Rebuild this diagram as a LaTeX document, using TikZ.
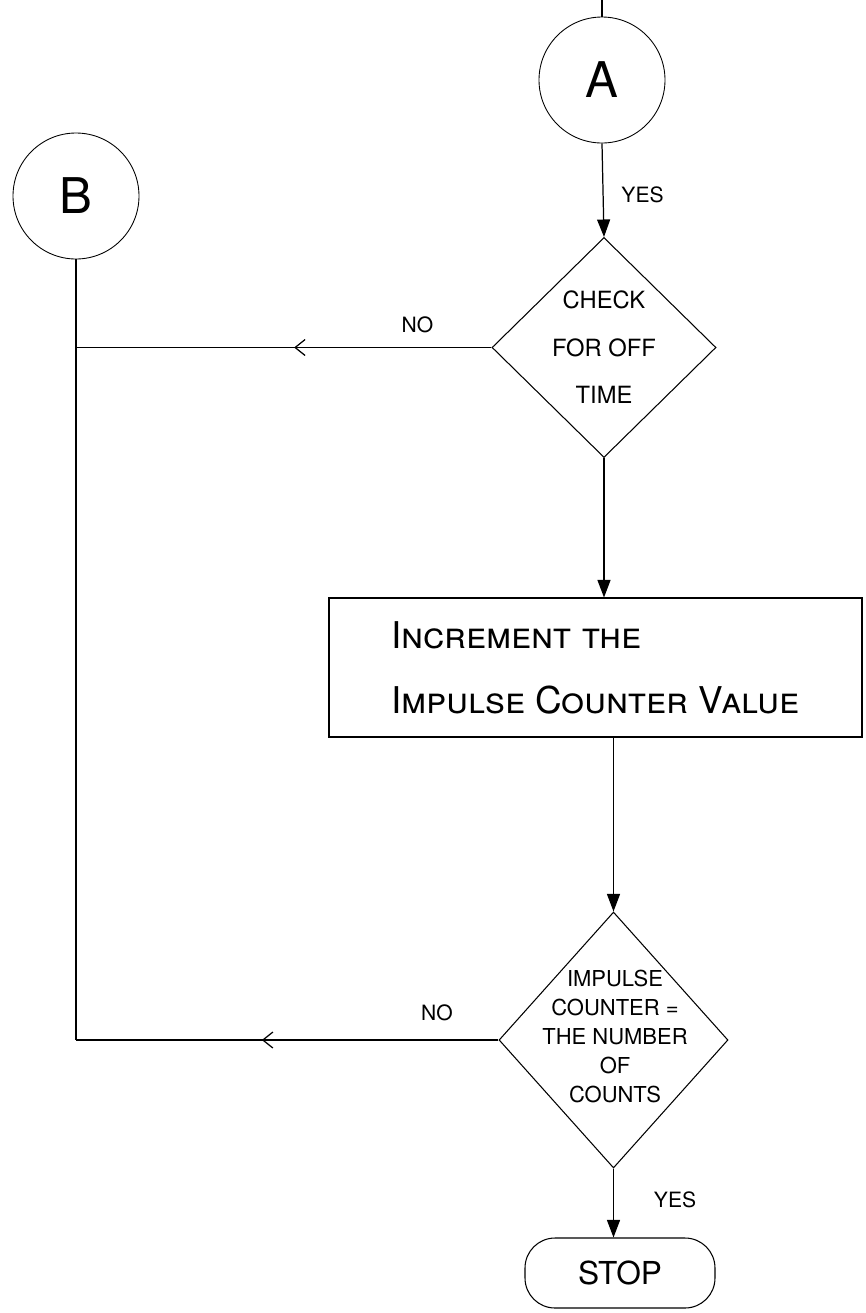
\documentclass[tikz,border=0pt]{standalone}
\usepackage{fontspec}
\setmainfont{TeX Gyre Heros}
\usetikzlibrary{arrows.meta,shapes.geometric,decorations.markings}

\begin{document}
\begin{tikzpicture}[line width=0.7pt,>={Triangle[length=3.5mm,width=2.6mm]},
  conn/.style={circle,draw,line width=0.5pt,minimum size=2.52cm,inner sep=0pt,
    font=\fontsize{28}{28}\selectfont},
  test/.style={diamond,draw,line width=0.6pt,inner sep=0pt,align=center},
  proc/.style={rectangle,draw,line width=0.6pt,align=left,
    font=\fontsize{21}{37}\selectfont},
  term/.style={rectangle,rounded corners=0.6cm,draw,line width=0.6pt,
    font=\fontsize{18}{18}\selectfont},
  lbl/.style={font=\fontsize{12}{12}\selectfont},
  midarr/.style={postaction={decorate},decoration={markings,
      mark=at position #1 with {\arrow{Straight Barb[length=2mm,width=3.2mm]}}}}]
\useasboundingbox (0,0) rectangle (17.32,-26.26);
% ================= connectors A and B =================
\node[conn] (A) at (12.04,-1.60) {A};
\node[conn] (B) at (1.52,-3.92) {B};
\coordinate (Atop) at (12.04,0);
\draw (Atop) -- (A.north);
% ================= check for off time =================
\node[test,minimum width=4.48cm,minimum height=4.4cm,
  font=\fontsize{13.5}{27}\selectfont] (chk) at (12.08,-6.95) {CHECK\\FOR OFF\\TIME};
\draw[->] (A.south) -- (chk.north);
\node[lbl,anchor=west] (yes1) at (12.30,-3.90) {YES};
\coordinate (j1) at (B |- chk.west);
\draw[midarr=0.475] (chk.west) -- (j1);
\node[lbl] (no1) at (8.35,-6.50) {NO};
% ================= increment counter =================
\node[proc,minimum width=10.66cm,minimum height=2.78cm] (inc) at (11.91,-13.35)
  {\textsc{Increment the}\\\textsc{Impulse Counter Value}};
\draw[->] (chk.south) -- (chk.south |- inc.north);
% ================= counter test =================
\node[test,minimum width=4.58cm,minimum height=5.12cm] (cnt) at (12.27,-20.80) {};
\node[align=center,font=\fontsize{12.5}{16.5}\selectfont] (cntTxt) at (12.30,-20.72)
  {IMPULSE\\COUNTER =\\THE NUMBER\\OF\\COUNTS};
\draw[->] (cnt.north |- inc.south) -- (cnt.north);
\coordinate (j2) at (B |- cnt.west);
\draw[midarr=0.56] (cnt.west) -- (j2);
\draw (B.south) -- (j2);
\node[lbl] (no2) at (8.74,-20.26) {NO};
% ================= stop =================
\node[term,minimum width=3.8cm,minimum height=1.4cm] (stop) at (12.40,-25.46) {STOP};
\draw[->] (cnt.south) -- (cnt.south |- stop.north);
\node[lbl,anchor=west] (yes2) at (12.95,-24.00) {YES};
\end{tikzpicture}
\end{document}
